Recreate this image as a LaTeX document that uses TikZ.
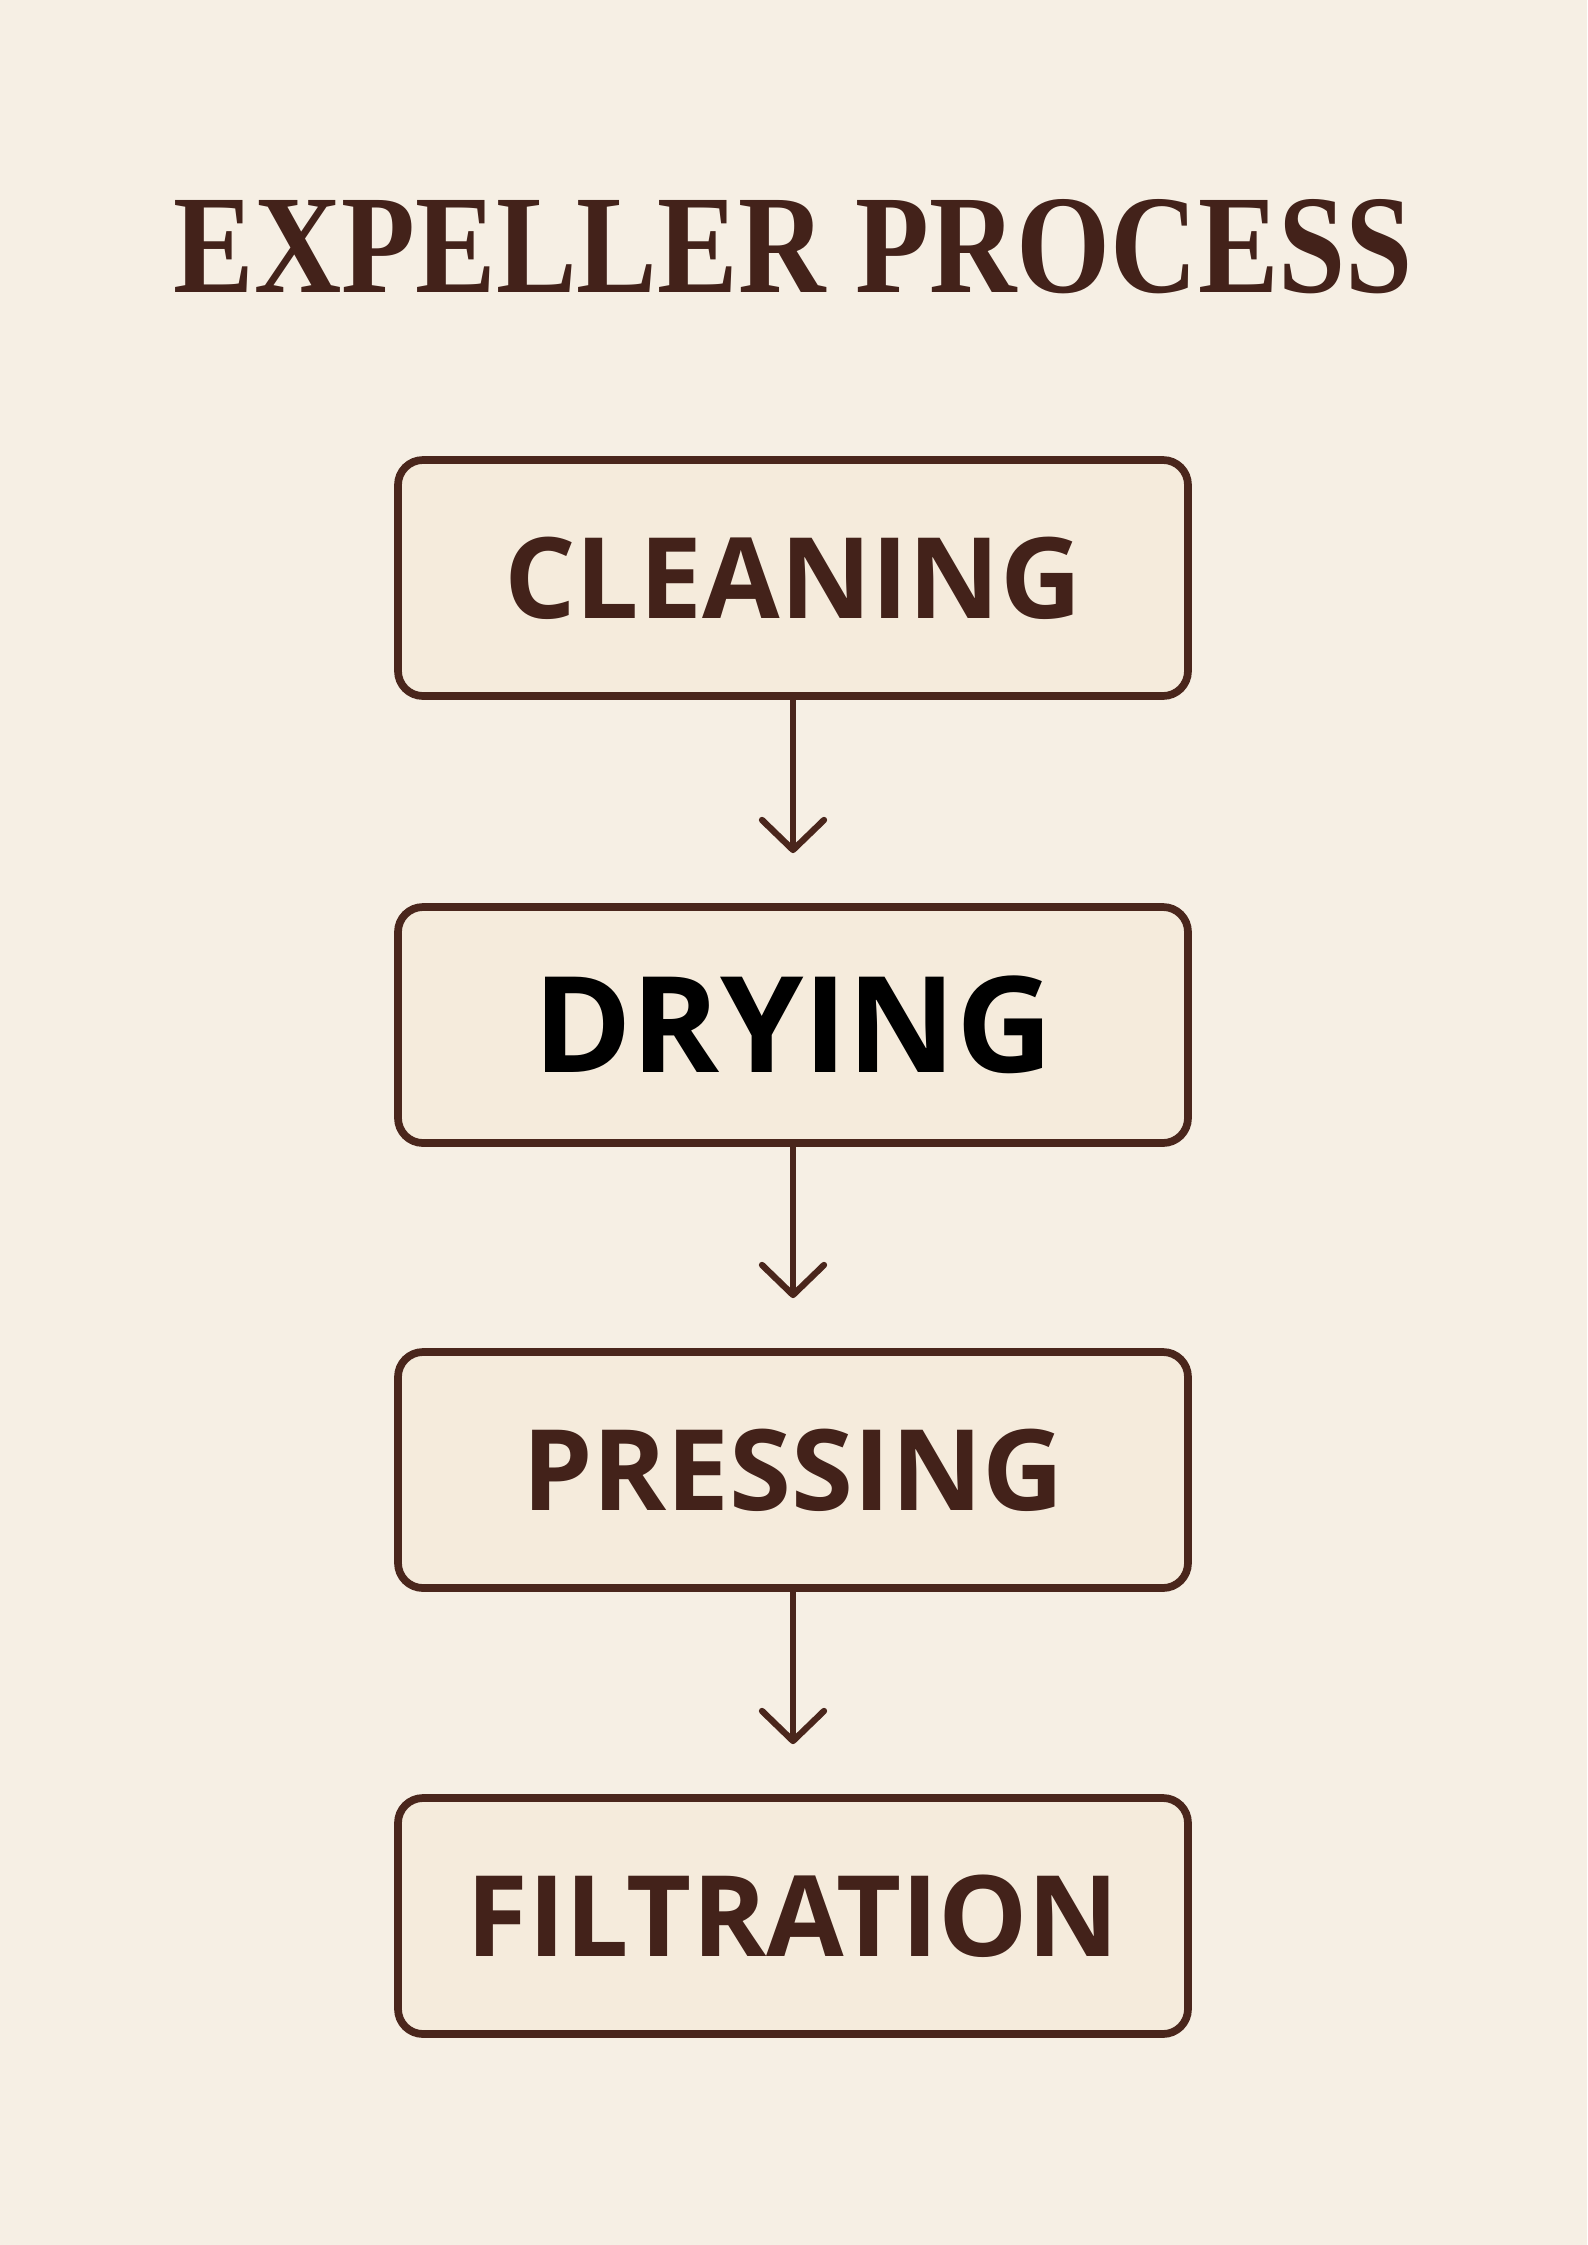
\documentclass[tikz,border=0pt]{standalone}
\usepackage{fontspec}
\setmainfont{Liberation Serif}
\newfontfamily\titlefont[FakeStretch=0.86]{Liberation Serif}
\newfontfamily\stagefont{Open Sans}
\usetikzlibrary{arrows.meta}
\definecolor{paper}{HTML}{F6EFE4}
\definecolor{boxfill}{HTML}{F5EBDC}
\definecolor{bark}{HTML}{4A261C}
\definecolor{ink}{HTML}{43221A}
\tikzset{
    stage/.style={draw=bark, line width=2.2pt, fill=boxfill, rounded corners=0.25cm,
        minimum width=7.9cm, minimum height=2.36cm, inner sep=0pt, text=ink,
        font=\stagefont\bfseries\fontsize{32}{32}\selectfont},
    flow/.style={draw=bark, line width=1.8pt, line cap=round,
        -{Straight Barb[length=0.3cm,width=0.62cm,round]}, shorten >=0.5cm}
}
\begin{document}
\begin{tikzpicture}
    \fill[paper] (0, 0) rectangle (15.87, -22.45);
    \useasboundingbox (0, 0) rectangle (15.87, -22.45);

    \node[text=ink, inner sep=0pt] (title) at (7.935, -2.47)
        {\titlefont\bfseries\fontsize{40}{40}\selectfont EXPELLER PROCESS};

    \node[stage] (cleaning) at (7.93, -5.78) {CLEANING};
    \node[stage, text=black, font=\stagefont\bfseries\fontsize{38}{38}\selectfont] (drying) at (7.93, -10.25) {DRYING};
    \node[stage] (pressing) at (7.93, -14.70) {PRESSING};
    \node[stage] (filtration) at (7.93, -19.16) {FILTRATION};

    \draw[flow] (cleaning) -- (drying);
    \draw[flow] (drying) -- (pressing);
    \draw[flow] (pressing) -- (filtration);
\end{tikzpicture}
\end{document}
